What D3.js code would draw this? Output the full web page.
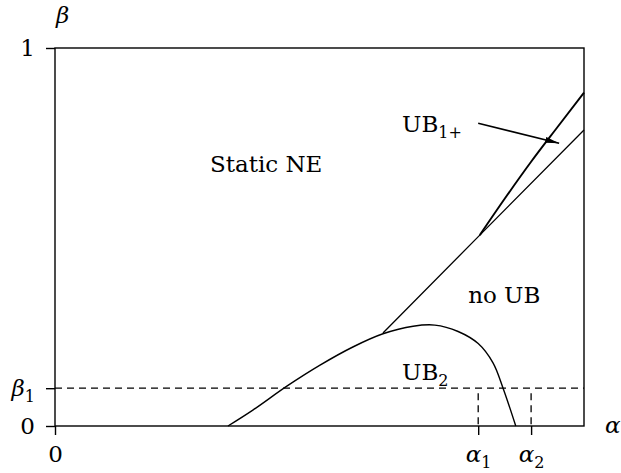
<!DOCTYPE html>
<html><head><meta charset="utf-8">
<script src="https://cdn.jsdelivr.net/npm/d3@7"></script>
<style>body{margin:0;background:#fff}svg{display:block}svg text{font-family:"DejaVu Serif","Liberation Serif",serif !important;fill:#000}</style>
</head><body>
<svg id="c" width="621" height="473"></svg>
<script>
// ---- data (α on x, β on y; both in [0,1]) ----
const beta1 = 0.1;
const alpha1 = 0.8;
const alpha2 = 0.9;
const yTicks = [0, beta1, 1];
const yTickLabels = ["0", "β|1", "1"];
const xTicks = [0, alpha1, alpha2];
const xTickLabels = ["0", "α|1", "α|2"];
// straight boundary (Static NE / no UB)
const lineBoundary = [[0.620, 0.246], [0.803, 0.505], [1.0, 0.783]];
// UB1+ upper curve
const curveUB1 = [[0.803, 0.505], [0.85, 0.601], [0.9, 0.699], [0.95, 0.791], [1.0, 0.882]];
// UB2 hump curve
const curveUB2 = [[0.327, 0.0], [0.374, 0.042], [0.439, 0.106], [0.501, 0.161], [0.563, 0.209], [0.620, 0.244], [0.677, 0.264], [0.718, 0.267], [0.762, 0.250], [0.800, 0.218], [0.828, 0.167], [0.847, 0.1], [0.871, 0.0]];
// region labels (start x, baseline y)
const regionLabels = [
  {text: "Static NE", x: 0.293, y: 0.672},
  {text: "no UB", x: 0.781, y: 0.325},
  {text: "UB|1+", x: 0.656, y: 0.778},
  {text: "UB|2", x: 0.656, y: 0.122}
];
// arrow from UB1+ label to the curve
const arrowPts = [[0.800, 0.801], [0.953, 0.748]];

// ---- drawing ----
const svg = d3.select("#c");
const x = d3.scaleLinear().domain([0, 1]).range([55, 584]);
const y = d3.scaleLinear().domain([0, 1]).range([426, 48]);
const FS = 23;
const FONT = "DejaVu Serif, Liberation Serif, serif";

function setLabel(sel, s, italic) {
  sel.text(null);
  const parts = s.split("|");
  sel.append("tspan").text(parts[0]).attr("font-style", italic ? "italic" : null);
  if (parts[1]) sel.append("tspan").text(parts[1]).attr("font-size", 16).attr("dy", 6);
}

// frame
svg.append("rect").attr("x", x(0)).attr("y", y(1)).attr("width", x(1) - x(0)).attr("height", y(0) - y(1))
  .attr("fill", "none").attr("stroke", "#000").attr("stroke-width", 1.4);

// axes
const gy = svg.append("g").attr("transform", `translate(${x(0)},0)`)
  .call(d3.axisLeft(y).tickValues(yTicks).tickSize(9).tickPadding(11).tickFormat((d, i) => yTickLabels[i]));
const gx = svg.append("g").attr("transform", `translate(0,${y(0)})`)
  .call(d3.axisBottom(x).tickValues(xTicks).tickSize(9).tickPadding(11).tickFormat((d, i) => xTickLabels[i]));
[gy, gx].forEach(g => {
  g.attr("font-family", FONT);
  g.select(".domain").remove();
  g.selectAll(".tick line").attr("stroke", "#000").attr("stroke-width", 1.4);
  g.selectAll(".tick text").attr("font-size", FS).attr("font-family", FONT)
    .each(function (d, i) { const s = (g === gy ? yTickLabels : xTickLabels)[i]; setLabel(d3.select(this), s, s.includes("|")); });
});

// dashed lines
svg.append("line").attr("x1", x(0)).attr("x2", x(1)).attr("y1", y(beta1)).attr("y2", y(beta1))
  .attr("stroke", "#000").attr("stroke-width", 1.3).attr("stroke-dasharray", "7,5");
[alpha1, alpha2].forEach(a => svg.append("line").attr("x1", x(a)).attr("x2", x(a)).attr("y1", y(beta1) + 5).attr("y2", y(0))
  .attr("stroke", "#000").attr("stroke-width", 1.3).attr("stroke-dasharray", "7,5"));

// curves
const lg = d3.line().x(d => x(d[0])).y(d => y(d[1]));
svg.append("path").attr("d", lg(lineBoundary)).attr("fill", "none").attr("stroke", "#000").attr("stroke-width", 1.3);
const lc = d3.line().x(d => x(d[0])).y(d => y(d[1])).curve(d3.curveMonotoneX);
svg.append("path").attr("d", lc(curveUB1)).attr("fill", "none").attr("stroke", "#000").attr("stroke-width", 1.9);
svg.append("path").attr("d", d3.line().x(d => x(d[0])).y(d => y(d[1])).curve(d3.curveCatmullRom.alpha(0.5))(curveUB2))
  .attr("fill", "none").attr("stroke", "#000").attr("stroke-width", 1.4);

// arrow
svg.append("defs").append("marker").attr("id", "ah").attr("viewBox", "0 0 14 6").attr("refX", 14).attr("refY", 3)
  .attr("markerWidth", 14).attr("markerHeight", 6).attr("markerUnits", "userSpaceOnUse").attr("orient", "auto")
  .append("path").attr("d", "M0,0 L14,3 L0,6 Z").attr("fill", "#000");
svg.append("line").attr("x1", x(arrowPts[0][0])).attr("y1", y(arrowPts[0][1])).attr("x2", x(arrowPts[1][0])).attr("y2", y(arrowPts[1][1]))
  .attr("stroke", "#000").attr("stroke-width", 1.6).attr("marker-end", "url(#ah)");

// region labels
regionLabels.forEach(l => {
  const t = svg.append("text").attr("x", x(l.x)).attr("y", y(l.y)).attr("font-size", FS).attr("font-family", FONT);
  setLabel(t, l.text, false);
});

// axis titles
svg.append("text").attr("x", x(0) + 1).attr("y", y(1) - 25).attr("font-size", FS).attr("font-family", FONT).attr("font-style", "italic").text("β");
svg.append("text").attr("x", x(1) + 21).attr("y", y(0) + 7).attr("font-size", FS).attr("font-family", FONT).attr("font-style", "italic").text("α");
</script>
</body></html>
